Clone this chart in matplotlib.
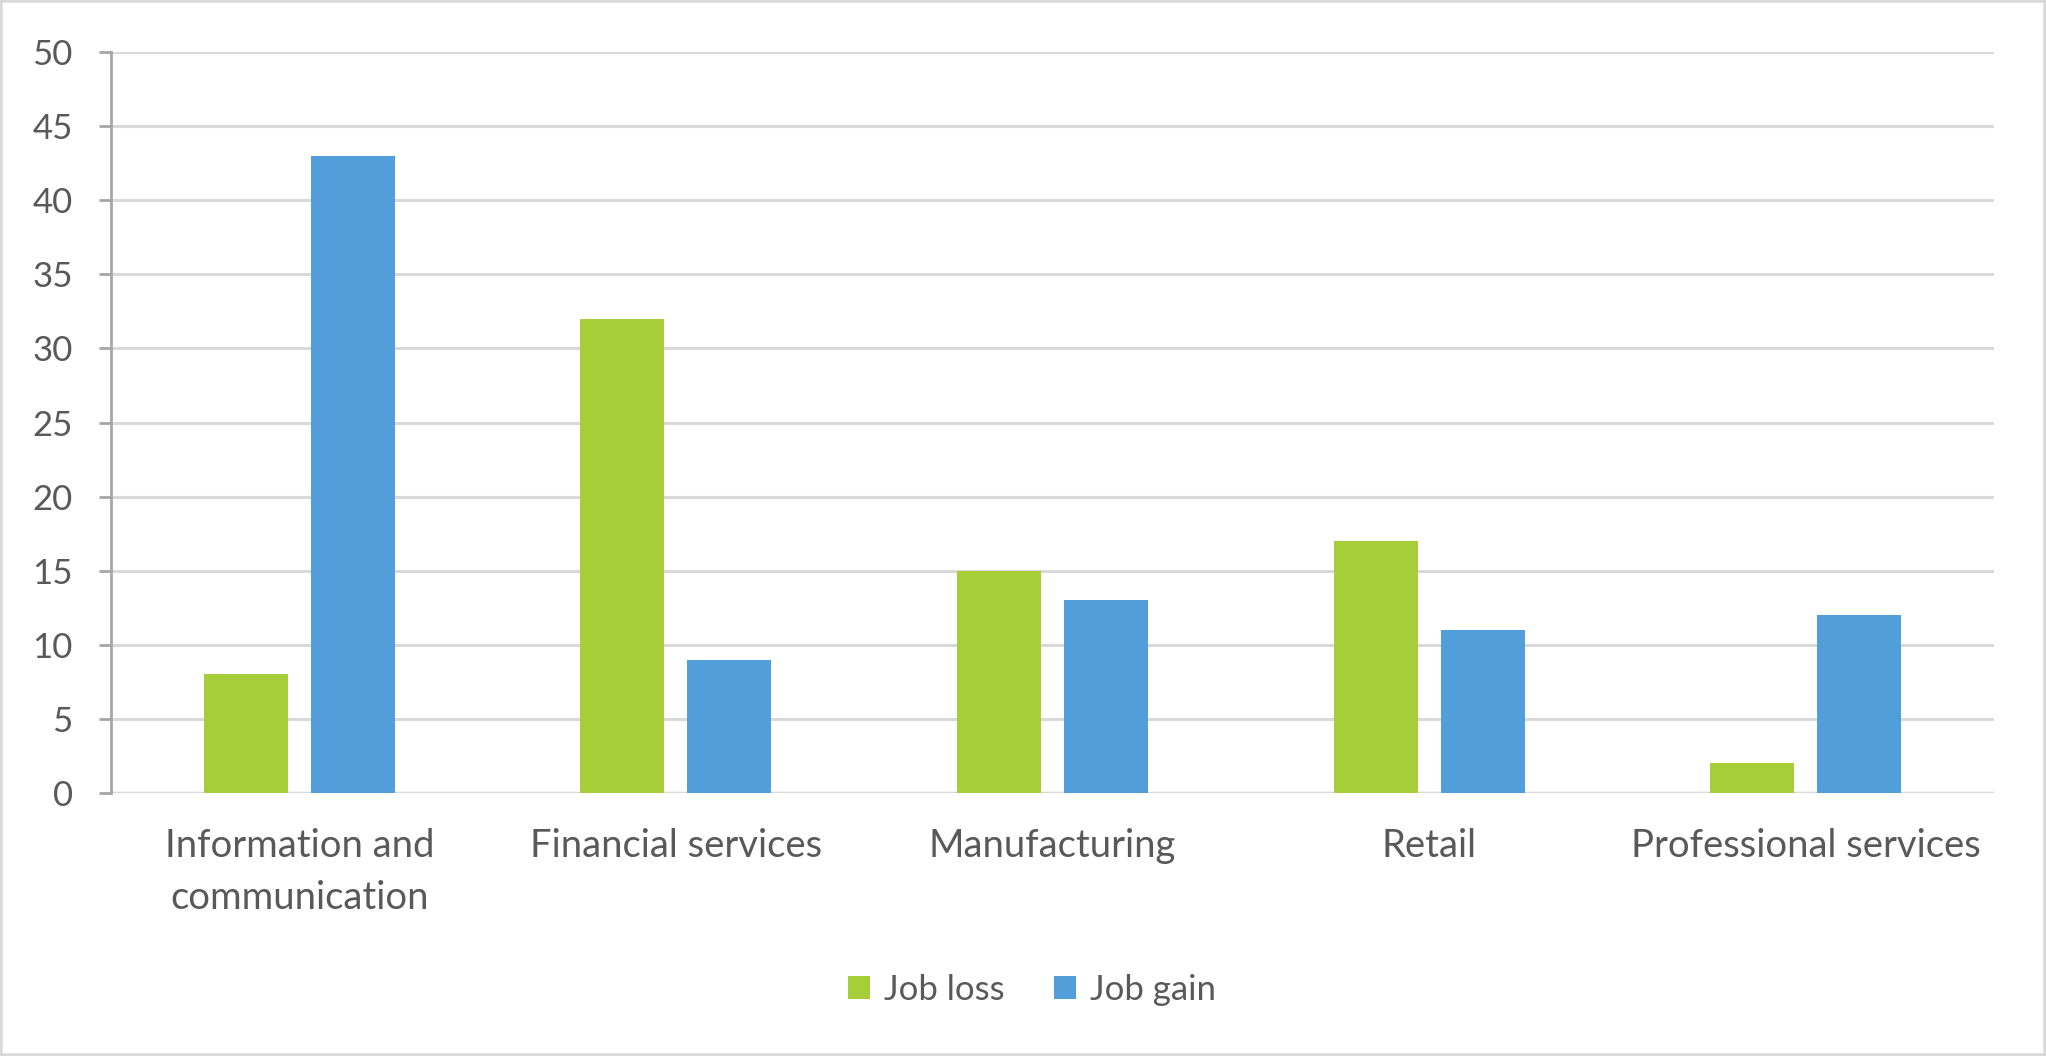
import matplotlib
matplotlib.use("Agg")
import matplotlib.pyplot as plt
import numpy as np
from matplotlib.patches import Rectangle

categories = ["Information and\ncommunication", "Financial services",
              "Manufacturing", "Retail", "Professional services"]
job_loss = [8, 32, 15, 17, 2]
job_gain = [43, 9, 13, 11, 12]

GREEN = "#A6CE39"
BLUE = "#529EDB"
TEXT = "#595959"
GRID = "#D9D9D9"

plt.rcParams["font.family"] = ["Lato", "DejaVu Sans"]
plt.rcParams["font.size"] = 25

fig = plt.figure(figsize=(20.46, 10.56), dpi=100)
ax = fig.add_axes([111 / 2046, 1 - 793 / 1056, (1994 - 111) / 2046, (793 - 52) / 1056])

x = np.arange(len(categories))
w = 0.223
off = 0.142
ax.bar(x - off, job_loss, w, color=GREEN, label="Job loss", zorder=3)
ax.bar(x + off, job_gain, w, color=BLUE, label="Job gain", zorder=3)

ax.set_xlim(-0.5, len(categories) - 0.5)
ax.set_ylim(0, 50)
ax.set_yticks(range(0, 51, 5))
ax.set_xticks(x)
ax.set_xticklabels(categories, color=TEXT, linespacing=1.55, fontsize=27.5)
ax.tick_params(axis="x", length=0, pad=25)
ax.tick_params(axis="y", length=8.6, width=2, color="#A6A6A6", pad=19, labelcolor=TEXT)
ax.grid(axis="y", color=GRID, linewidth=2.2, zorder=0)
for s in ["top", "right", "bottom"]:
    ax.spines[s].set_visible(False)
ax.spines["left"].set_color("#A6A6A6")
ax.spines["left"].set_linewidth(2)
ax.axhline(0, color=GRID, linewidth=2.5, zorder=2)

fig.legend(loc="center", bbox_to_anchor=(1032 / 2046, 1 - 990 / 1056), ncol=2,
           frameon=False, handlelength=0.65, handleheight=0.65, handletextpad=0.4,
           columnspacing=1.4, labelcolor=TEXT, fontsize=25)

fig.patches.append(Rectangle((0, 0), 1, 1, transform=fig.transFigure, fill=False,
                             edgecolor=GRID, linewidth=4))

fig.savefig("out.png", dpi=100)
